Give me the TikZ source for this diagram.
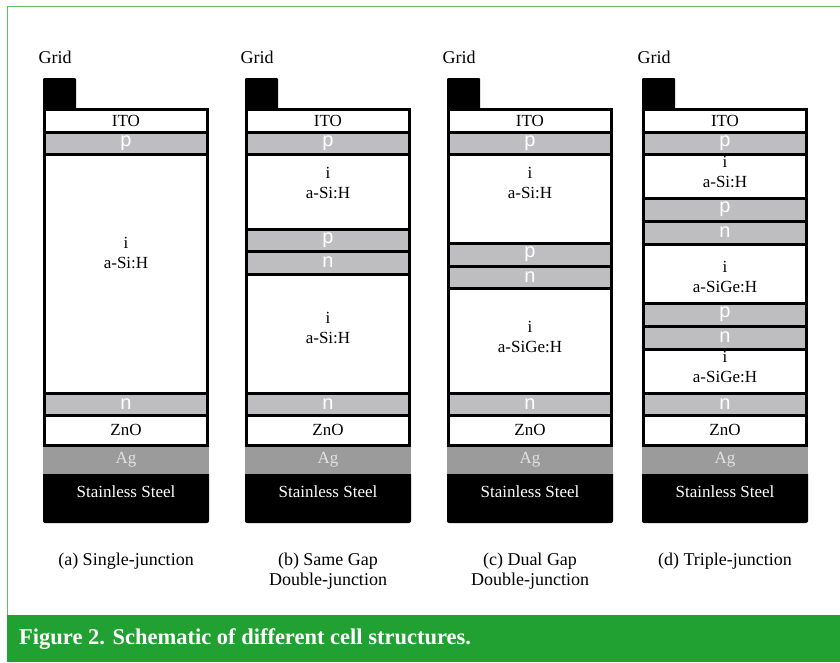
\documentclass[tikz,border=0pt]{standalone}
\usepackage{fontspec}
\setmainfont{Liberation Serif}
\newfontfamily\pnfont{Liberation Sans}
\usepackage{tikz}
\usetikzlibrary{positioning}
\definecolor{pngray}{HTML}{BEBEC0}
\definecolor{aggray}{HTML}{9B9B9B}
\definecolor{aglabel}{HTML}{E2E2E2}
\definecolor{capgreen}{HTML}{21A132}
\definecolor{framegreen}{HTML}{62BC66}
\tikzset{
	cellline/.style={line width=3pt},
	txt/.style={font=\fontsize{17}{20}\selectfont, inner sep=0pt, align=center},
	pntxt/.style={font=\pnfont\fontsize{20}{20}\selectfont, text=white, inner sep=0pt},
	subcap/.style={font=\fontsize{18}{20}\selectfont, inner sep=0pt, align=center}
}
\newcommand{\dopedlayer}[4]{\draw[cellline, fill=pngray] (0,#2) rectangle (163,#3);
	\node[pntxt] (#1) at (81.5,{(#2+#3)/2}) {#4};}
\newcommand{\ilayer}[5]{\draw[cellline, fill=white] (0,#2) rectangle (163,#3);
	\node[txt] (#1) at (81.5,#4) {i\\#5};}
\newcommand{\cellbase}{\node[txt, font=\fontsize{18}{20}\selectfont, anchor=west] (grid) at (-6,57) {Grid};
	\fill[rounded corners=1pt] (-1.5,78) rectangle (31.5,109);
	\fill[rounded corners=2pt] (-1.5,472) rectangle (164.5,523);
	\node[txt, text=white] (steel) at (81.5,492) {Stainless Steel};
	\fill[aggray] (-1.5,445) rectangle (164.5,474);
	\node[txt, text=aglabel] (ag) at (81.5,460) {Ag};
	\draw[cellline, fill=white] (0,415) rectangle (163,445);
	\node[txt] (zno) at (81.5,430) {ZnO};
	\dopedlayer{nbot}{393}{415}{n}
	\draw[cellline, fill=white] (0,109.5) rectangle (163,132);
	\node[txt] (ito) at (81.5,121) {ITO};
	\dopedlayer{ptop}{132}{154}{p}}

\begin{document}
\begin{tikzpicture}[x=1pt, y=-1pt]
	\useasboundingbox (0,0) rectangle (840,662);

	\draw[framegreen, line width=1pt] (7,662) -- (7,6) -- (840,6);
	\fill[capgreen] (7,615) rectangle (840,662);
	\node[anchor=west, text=white, inner sep=0pt, font=\bfseries\fontsize{22.5}{24}\selectfont] (figcap) at (19,639) {Figure 2. Schematic of different cell structures.};

	\begin{scope}[xshift=44.5pt, name prefix=a-]
		\ilayer{isi}{154}{393}{253}{a-Si:H}
		\cellbase
		\node[subcap] (cap) at (81.5,561) {(a) Single-junction};
	\end{scope}

	\begin{scope}[xshift=246.5pt, name prefix=b-]
		\ilayer{isitop}{154}{229}{183}{a-Si:H}
		\dopedlayer{pmid}{229}{251}{p}
		\dopedlayer{nmid}{251}{274}{n}
		\ilayer{isibot}{274}{393}{328}{a-Si:H}
		\cellbase
		\node[subcap] (cap) at (81.5,571) {(b) Same Gap\\Double-junction};
	\end{scope}

	\begin{scope}[xshift=448.5pt, name prefix=c-]
		\ilayer{isi}{154}{243}{183}{a-Si:H}
		\dopedlayer{pmid}{243}{266}{p}
		\dopedlayer{nmid}{266}{288}{n}
		\ilayer{isige}{288}{393}{337}{a-SiGe:H}
		\cellbase
		\node[subcap] (cap) at (81.5,571) {(c) Dual Gap\\Double-junction};
	\end{scope}

	\begin{scope}[xshift=643.5pt, name prefix=d-]
		\ilayer{isi}{154}{198}{172}{a-Si:H}
		\dopedlayer{pone}{198}{221}{p}
		\dopedlayer{none}{221}{244}{n}
		\ilayer{isige}{244}{303}{277}{a-SiGe:H}
		\dopedlayer{ptwo}{303}{326}{p}
		\dopedlayer{ntwo}{326}{349}{n}
		\ilayer{isigebot}{349}{393}{367}{a-SiGe:H}
		\cellbase
		\node[subcap] (cap) at (81.5,561) {(d) Triple-junction};
	\end{scope}

\end{tikzpicture}
\end{document}
